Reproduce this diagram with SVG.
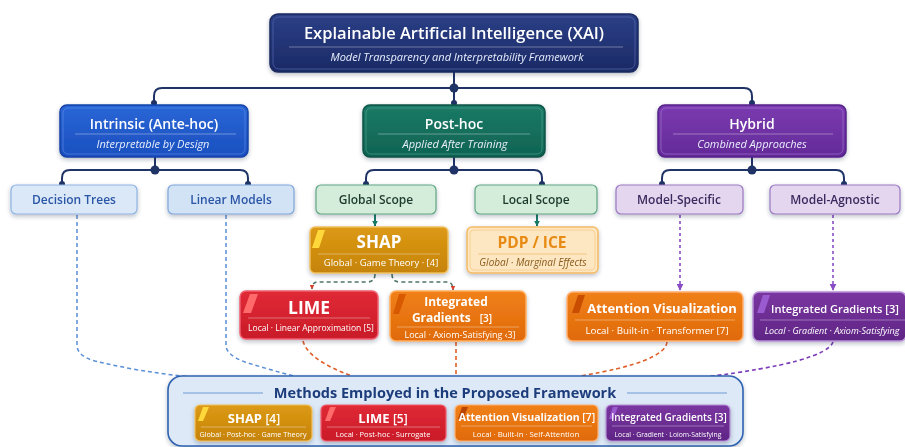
<svg xmlns="http://www.w3.org/2000/svg" width="905" height="447" viewBox="0 0 905 447">
<defs>
<style>
text{font-family:"Open Sans","Noto Sans","Liberation Sans",sans-serif;}
.t{fill:#fff;font-weight:600;text-anchor:middle;}
.s{fill:#e8eefc;font-style:italic;text-anchor:middle;font-size:11px;}
.w{fill:#fff;text-anchor:middle;}
.conn{fill:none;stroke:#1f3366;stroke-width:2;}
.dot{fill:#1f3366;}
.div{stroke:#ffffff;stroke-opacity:0.35;stroke-width:1;}
</style>
<linearGradient id="gNavy" x1="0" y1="0" x2="0" y2="1"><stop offset="0" stop-color="#2b3f86"/><stop offset="1" stop-color="#1b2a66"/></linearGradient>
<linearGradient id="gBlue" x1="0" y1="0" x2="0" y2="1"><stop offset="0" stop-color="#2a66d6"/><stop offset="1" stop-color="#1a4fbf"/></linearGradient>
<linearGradient id="gTeal" x1="0" y1="0" x2="0" y2="1"><stop offset="0" stop-color="#1b7a66"/><stop offset="1" stop-color="#0f6352"/></linearGradient>
<linearGradient id="gPurp" x1="0" y1="0" x2="0" y2="1"><stop offset="0" stop-color="#7b3bb0"/><stop offset="1" stop-color="#632a98"/></linearGradient>
<linearGradient id="gGold" x1="0" y1="0" x2="0" y2="1"><stop offset="0" stop-color="#dc9a14"/><stop offset="1" stop-color="#c6830a"/></linearGradient>
<linearGradient id="gRed" x1="0" y1="0" x2="0" y2="1"><stop offset="0" stop-color="#e02a36"/><stop offset="1" stop-color="#c91b28"/></linearGradient>
<linearGradient id="gOrg" x1="0" y1="0" x2="0" y2="1"><stop offset="0" stop-color="#f0801a"/><stop offset="1" stop-color="#e06a08"/></linearGradient>
<linearGradient id="gVio" x1="0" y1="0" x2="0" y2="1"><stop offset="0" stop-color="#7a36a0"/><stop offset="1" stop-color="#5f2585"/></linearGradient>
<filter id="sh" x="-10%" y="-20%" width="120%" height="150%"><feDropShadow dx="0" dy="2" stdDeviation="2" flood-color="#22304a" flood-opacity="0.3"/></filter>
<marker id="aPurp" viewBox="0 0 10 10" refX="9" refY="5" markerUnits="userSpaceOnUse" markerWidth="7" markerHeight="7" orient="auto"><path d="M0,0 L10,5 L0,10 Z" fill="#8a4cc4"/></marker>
<marker id="aT" viewBox="0 0 10 10" refX="9" refY="5" markerUnits="userSpaceOnUse" markerWidth="6" markerHeight="6" orient="auto"><path d="M0,0 L10,5 L0,10 Z" fill="#177a66"/></marker>
<marker id="aR" viewBox="0 0 10 10" refX="9" refY="5" markerUnits="userSpaceOnUse" markerWidth="5" markerHeight="5" orient="auto"><path d="M0,0 L10,5 L0,10 Z" fill="#d8402a"/></marker>
</defs>
<rect width="905" height="447" fill="#ffffff"/>

<g id="connectors">
<path class="conn" d="M454,72 V103"/>
<path class="conn" d="M154,104 V96 Q154,88 162,88 H744 Q752,88 752,96 V104"/>
<circle class="dot" cx="454" cy="88" r="4.5"/>
<circle class="dot" cx="454" cy="103" r="3"/>
<circle class="dot" cx="154" cy="103" r="3"/>
<circle class="dot" cx="752" cy="103" r="3"/>
<path class="conn" d="M155,157 V170"/>
<path class="conn" d="M62,185 V178 Q62,170 70,170 H240 Q248,170 248,178 V185"/>
<circle class="dot" cx="155" cy="170" r="4.5"/>
<circle class="dot" cx="62" cy="184" r="3"/>
<circle class="dot" cx="248" cy="184" r="3"/>
<path class="conn" d="M454,157 V170"/>
<path class="conn" d="M366,185 V178 Q366,170 374,170 H534 Q542,170 542,178 V185"/>
<circle class="dot" cx="454" cy="170" r="4.5"/>
<circle class="dot" cx="366" cy="184" r="3"/>
<circle class="dot" cx="542" cy="184" r="3"/>
<path class="conn" d="M752,157 V170"/>
<path class="conn" d="M662,185 V178 Q662,170 670,170 H836 Q844,170 844,178 V185"/>
<circle class="dot" cx="752" cy="170" r="4.5"/>
<circle class="dot" cx="662" cy="184" r="3"/>
<circle class="dot" cx="844" cy="184" r="3"/>
<path d="M375,214 V226" stroke="#177a66" stroke-width="2" fill="none" marker-end="url(#aT)"/>
<path d="M537,214 V226" stroke="#177a66" stroke-width="2" fill="none" marker-end="url(#aT)"/>
<path d="M375,274 Q375,282 367,282 H318 Q312,282 312,289" stroke="#4f7468" stroke-width="1.6" stroke-dasharray="4,3" fill="none" marker-end="url(#aR)"/>
<path d="M392,274 Q392,282 400,282 H447 Q453,282 453,290" stroke="#4f7468" stroke-width="1.6" stroke-dasharray="4,3" fill="none" marker-end="url(#aR)"/>
<path d="M680,215 V290" stroke="#8a4cc4" stroke-width="1.6" stroke-dasharray="3,3" fill="none" marker-end="url(#aPurp)"/>
<path d="M833,215 V290" stroke="#8a4cc4" stroke-width="1.6" stroke-dasharray="3,3" fill="none" marker-end="url(#aPurp)"/>
<path d="M77,215 V345 Q77,356 95,361 Q140,372 192,377" stroke="#5b8fd6" stroke-width="1.5" stroke-dasharray="4,3" fill="none"/>
<path d="M226,215 V345 Q226,355 245,362 Q270,370 298,377" stroke="#5b8fd6" stroke-width="1.5" stroke-dasharray="4,3" fill="none"/>
<path d="M303,341 Q308,360 352,376" stroke="#e0602a" stroke-width="1.6" stroke-dasharray="4,3" fill="none"/>
<path d="M456,342 V376" stroke="#e0602a" stroke-width="1.6" stroke-dasharray="4,3" fill="none"/>
<path d="M667,342 Q665,362 580,376" stroke="#e0602a" stroke-width="1.6" stroke-dasharray="4,3" fill="none"/>
<path d="M833,342 Q826,362 705,377" stroke="#7a3cb8" stroke-width="1.6" stroke-dasharray="4,3" fill="none"/>
</g>

<g id="xai" filter="url(#sh)">
<rect x="270" y="14" width="368" height="58" rx="8" fill="url(#gNavy)" stroke="#1a2a60" stroke-width="1.5"/>
<rect x="273" y="17" width="362" height="52" rx="6" fill="none" stroke="#5a6fb8" stroke-opacity="0.6"/>
<text class="t" x="454" y="39" font-size="16.5">Explainable Artificial Intelligence (XAI)</text>
<line class="div" x1="289" y1="47" x2="623" y2="47"/>
<text class="s" x="457" y="61" font-size="11.5">Model Transparency and Interpretability Framework</text>
</g>

<g id="intrinsic" filter="url(#sh)">
<rect x="60" y="105" width="188" height="52" rx="7" fill="url(#gBlue)" stroke="#1443a8" stroke-width="1.5"/>
<rect x="63" y="108" width="182" height="46" rx="5" fill="none" stroke="#6e9af0" stroke-opacity="0.5"/>
<text class="t" x="154" y="129" font-size="14">Intrinsic (Ante-hoc)</text>
<line class="div" x1="75" y1="134" x2="236" y2="134"/>
<text class="s" x="153" y="148" font-size="11.3">Interpretable by Design</text>
</g>

<g id="posthoc" filter="url(#sh)">
<rect x="363" y="105" width="182" height="52" rx="7" fill="url(#gTeal)" stroke="#0b5446" stroke-width="1.5"/>
<rect x="366" y="108" width="176" height="46" rx="5" fill="none" stroke="#5fb09c" stroke-opacity="0.5"/>
<text class="t" x="454" y="129" font-size="14">Post-hoc</text>
<line class="div" x1="378" y1="134" x2="530" y2="134"/>
<text class="s" x="455" y="148">Applied After Training</text>
</g>

<g id="hybrid" filter="url(#sh)">
<rect x="658" y="105" width="188" height="52" rx="7" fill="url(#gPurp)" stroke="#55208a" stroke-width="1.5"/>
<rect x="661" y="108" width="182" height="46" rx="5" fill="none" stroke="#b48ae0" stroke-opacity="0.5"/>
<text class="t" x="752" y="129" font-size="14">Hybrid</text>
<line class="div" x1="673" y1="134" x2="833" y2="134"/>
<text class="s" x="752" y="148">Combined Approaches</text>
</g>

<g id="decision-trees" filter="url(#sh)">
<rect x="11" y="185" width="126" height="29" rx="5" fill="#dae8f8" stroke="#8fb3e2" stroke-width="1.2"/>
<text x="74" y="204" font-size="12" font-weight="600" fill="#2a56a6" text-anchor="middle">Decision Trees</text>
</g>
<g id="linear-models" filter="url(#sh)">
<rect x="168" y="185" width="126" height="29" rx="5" fill="#d3e3f6" stroke="#7fa6da" stroke-width="1.2"/>
<text x="231" y="204" font-size="12" font-weight="600" fill="#2a56a6" text-anchor="middle">Linear Models</text>
</g>
<g id="global-scope" filter="url(#sh)">
<rect x="316" y="185" width="120" height="29" rx="5" fill="#d4eddb" stroke="#5fa584" stroke-width="1.2"/>
<text x="376" y="204" font-size="12" font-weight="600" fill="#1e3a2c" text-anchor="middle">Global Scope</text>
</g>
<g id="local-scope" filter="url(#sh)">
<rect x="475" y="185" width="122" height="29" rx="5" fill="#d4eddb" stroke="#5fa584" stroke-width="1.2"/>
<text x="536" y="204" font-size="12" font-weight="600" fill="#1e3a2c" text-anchor="middle">Local Scope</text>
</g>
<g id="model-specific" filter="url(#sh)">
<rect x="616" y="185" width="127" height="29" rx="5" fill="#e4d6ef" stroke="#9a78c2" stroke-width="1.2"/>
<text x="679" y="204" font-size="12" font-weight="600" fill="#3a2a5e" text-anchor="middle">Model-Specific</text>
</g>
<g id="model-agnostic" filter="url(#sh)">
<rect x="770" y="185" width="130" height="29" rx="5" fill="#e4d6ef" stroke="#9a78c2" stroke-width="1.2"/>
<text x="835" y="204" font-size="12" font-weight="600" fill="#3a2a5e" text-anchor="middle">Model-Agnostic</text>
</g>

<g id="shap" filter="url(#sh)">
<rect x="310" y="227" width="138" height="46" rx="5" fill="url(#gGold)" stroke="#f0c060" stroke-width="1.5"/>
<path d="M318,230 L325,230 L319,248 L312,248 Z" fill="#ffd83a"/>
<text class="w" x="379" y="248" font-size="17" font-weight="700">SHAP</text>
<line class="div" x1="318" y1="254" x2="440" y2="254"/>
<text class="w" x="381" y="266" font-size="9.5" fill="#fff4dc">Global · Game Theory · [4]</text>
</g>
<g id="pdp-ice" filter="url(#sh)">
<rect x="467" y="227" width="131" height="46" rx="5" fill="#fde7c2" stroke="#f4bb66" stroke-width="1.5"/>
<rect x="470" y="230" width="125" height="40" rx="4" fill="none" stroke="#f7c77e" stroke-opacity="0.7"/>
<text x="532" y="248" font-size="15.5" font-weight="700" fill="#e88a12" text-anchor="middle">PDP / ICE</text>
<line x1="478" y1="254" x2="587" y2="254" stroke="#f0b060" stroke-opacity="0.6"/>
<text x="533" y="266" font-size="10" font-style="italic" fill="#8a5a1a" text-anchor="middle">Global · Marginal Effects</text>
</g>

<g id="lime" filter="url(#sh)">
<rect x="240" y="291" width="138" height="48" rx="6" fill="url(#gRed)" stroke="#f06070" stroke-width="1.5"/>
<path d="M250,294 L258,294 L251,313 L243,313 Z" fill="#ff6a6a"/>
<text class="w" x="309" y="314" font-size="17.5" font-weight="700">LIME</text>
<line class="div" x1="248" y1="318" x2="370" y2="318"/>
<text class="w" x="311" y="331" font-size="8.5" fill="#ffe8e8">Local · Linear Approximation [5]</text>
</g>
<g id="integrated-gradients-local" filter="url(#sh)">
<rect x="390" y="291" width="136" height="50" rx="6" fill="url(#gOrg)" stroke="#ffb060" stroke-width="1.5"/>
<path d="M399,294 L406,294 L399,314 L393,314 Z" fill="#d85a00"/>
<text class="w" x="456" y="306" font-size="12" font-weight="700">Integrated</text>
<text class="w" x="452" y="322" font-size="12" font-weight="700">Gradients <tspan font-size="10" font-weight="600" dx="6">[3]</tspan></text>
<line class="div" x1="397" y1="327" x2="519" y2="327"/>
<text class="w" x="460" y="338" font-size="9" fill="#fff1e0">Local · Axiom-Satisfying ‹3]</text>
</g>
<g id="attention-visualization" filter="url(#sh)">
<rect x="567" y="292" width="176" height="49" rx="6" fill="url(#gOrg)" stroke="#ffb070" stroke-width="1.5"/>
<path d="M578,295 L585,295 L579,313 L572,313 Z" fill="#c84e00"/>
<text class="w" x="662" y="313" font-size="13" font-weight="700">Attention Visualization</text>
<line class="div" x1="575" y1="320" x2="735" y2="320"/>
<text class="w" x="657" y="334" font-size="9.8" fill="#fff1e0">Local · Built-in · Transformer  [7]</text>
</g>
<g id="integrated-gradients-hybrid" filter="url(#sh)">
<rect x="753" y="292" width="153" height="49" rx="6" fill="url(#gVio)" stroke="#b890d8" stroke-width="1.5"/>
<path d="M763,295 L770,295 L764,313 L757,313 Z" fill="#9a5ad0"/>
<text class="w" x="835" y="313" font-size="11.5" font-weight="600" textLength="128" lengthAdjust="spacingAndGlyphs">Integrated Gradients [3]</text>
<line class="div" x1="760" y1="320" x2="905" y2="320"/>
<text class="w" x="832" y="334" font-size="9" font-style="italic" fill="#f0e4ff">Local · Gradient · Axiom-Satisfying</text>
</g>

<g id="methods-panel" filter="url(#sh)">
<rect x="168" y="376" width="575" height="70" rx="14" fill="#dde9f6" stroke="#2f62b0" stroke-width="1.6"/>
<line x1="183" y1="393" x2="263" y2="393" stroke="#6f9ad6" stroke-width="1"/>
<line x1="627" y1="393" x2="727" y2="393" stroke="#6f9ad6" stroke-width="1"/>
<text x="445" y="398" font-size="14.5" font-weight="700" fill="#1e3c7c" text-anchor="middle">Methods Employed in the Proposed Framework</text>
</g>
<g id="m-shap" filter="url(#sh)">
<rect x="195" y="405" width="117" height="36" rx="5" fill="url(#gGold)" stroke="#f0c060" stroke-width="1.2"/>
<path d="M203,407 L209,407 L203,421 L198,421 Z" fill="#ffd83a"/>
<text class="w" x="254" y="423" font-size="13" font-weight="700">SHAP <tspan font-weight="600" font-size="12">[4]</tspan></text>
<line class="div" x1="201" y1="427" x2="306" y2="427"/>
<text class="w" x="253" y="436.5" font-size="7.2" fill="#fff4dc">Global · Post-hoc · Game Theory</text>
</g>
<g id="m-lime" filter="url(#sh)">
<rect x="321" y="405" width="125" height="36" rx="5" fill="url(#gRed)" stroke="#f06070" stroke-width="1.2"/>
<path d="M330,407 L336,407 L330,421 L325,421 Z" fill="#ff6a6a"/>
<text class="w" x="383" y="423" font-size="13" font-weight="700">LIME <tspan font-weight="600" font-size="12">[5]</tspan></text>
<line class="div" x1="327" y1="427" x2="440" y2="427"/>
<text class="w" x="383" y="436.5" font-size="7.5" fill="#ffe8e8">Local · Post-hoc · Surrogate</text>
</g>
<g id="m-attention" filter="url(#sh)">
<rect x="455" y="405" width="143" height="36" rx="5" fill="url(#gOrg)" stroke="#ffb070" stroke-width="1.2"/>
<path d="M462,407 L468,407 L463,419 L458,419 Z" fill="#b84400"/>
<text class="w" x="527" y="421" font-size="10.5" font-weight="700">Attention Visualization <tspan font-weight="600">[7]</tspan></text>
<line class="div" x1="461" y1="426" x2="592" y2="426"/>
<text class="w" x="526" y="436.5" font-size="7.8" fill="#fff1e0">Local · Built-in · Self-Attention</text>
</g>
<g id="m-integrated" filter="url(#sh)">
<rect x="606" y="405" width="124" height="36" rx="5" fill="url(#gVio)" stroke="#b890d8" stroke-width="1.2"/>
<path d="M613,407 L618,407 L613,419 L609,419 Z" fill="#9a5ad0"/>
<text class="w" x="669" y="421" font-size="10" font-weight="600">Integrated Gradients [3]</text>
<line class="div" x1="612" y1="426" x2="724" y2="426"/>
<text class="w" x="668" y="436.5" font-size="6.8" fill="#f0e4ff">Local · Gradient · Loiom-Satisfying</text>
</g>
</svg>
